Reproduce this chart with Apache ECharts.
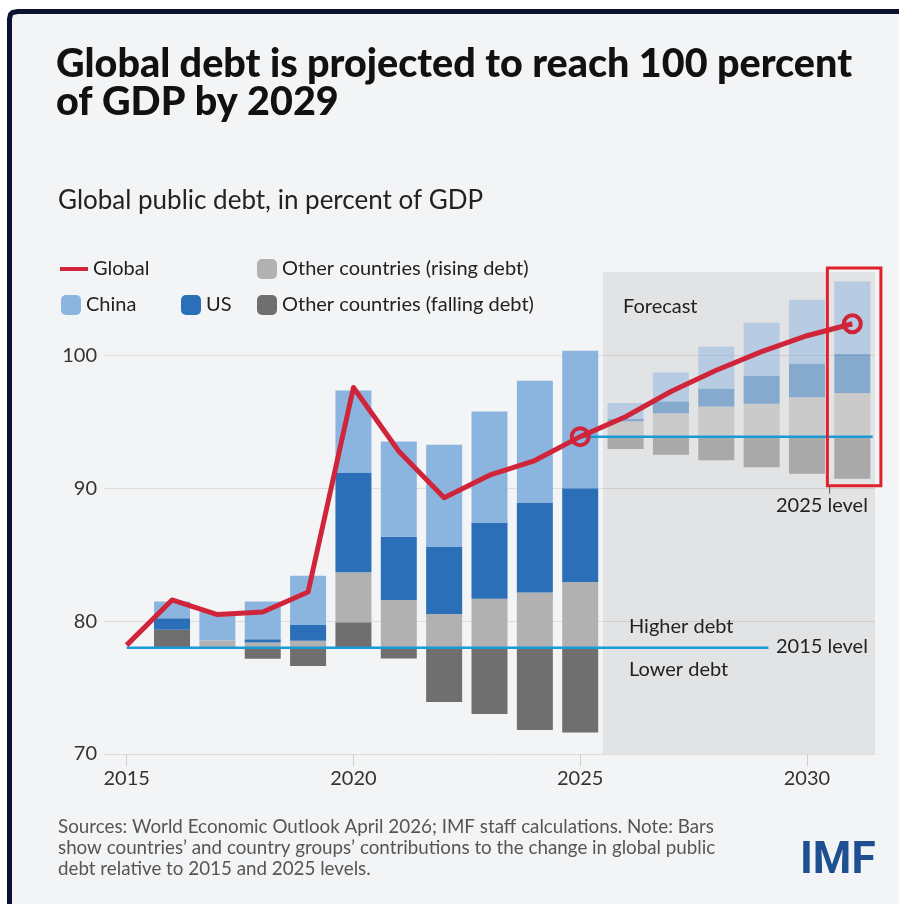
<!DOCTYPE html>
<html>
<head>
<meta charset="utf-8">
<script src="https://cdn.jsdelivr.net/npm/echarts@6/dist/echarts.min.js"></script>
<style>
  html, body { margin: 0; padding: 0; background: #ffffff; overflow: hidden; }
  #chart { width: 899px; height: 904px; }
</style>
</head>
<body>
<div id="chart"></div>
<script>
// years on the x axis, 2026 onwards is forecast
var years = ['2015', '2016', '2017', '2018', '2019', '2020', '2021', '2022', '2023', '2024',
             '2025', '2026', '2027', '2028', '2029', '2030', '2031'];
var firstForecast = 11;

// contributions, percentage points (vs 2015 level up to 2025, vs 2025 level after)
var china   = [null, 1.25, 2.15, 2.84, 3.70, 6.18, 7.16, 7.71, 8.37, 9.17, 10.35, 1.20, 2.19, 3.19, 3.99, 4.82, 5.47];
var us      = [null, 0.88, 0.00, 0.25, 1.20, 7.51, 4.77, 5.03, 5.73, 6.78, 7.06, 0.18, 0.87, 1.33, 2.11, 2.52, 2.94];
var rising  = [null, 0.00, 0.55, 0.39, 0.52, 3.77, 3.60, 2.55, 3.70, 4.16, 4.96, 1.15, 1.77, 2.27, 2.48, 2.97, 3.28];
var falling = [null, 1.35, 0.00, -0.83, -1.37, 1.92, -0.81, -4.09, -4.99, -6.19, -6.39, -0.93, -1.37, -1.77, -2.30, -2.80, -3.18];

// global public debt, percent of GDP
var globalDebt = [78.2, 81.6, 80.5, 80.7, 82.2, 97.6, 92.8, 89.3, 91.0, 92.1, 93.9, 95.4, 97.3, 98.9, 100.3, 101.5, 102.4];

var level2015 = 78.0;
var level2025 = 93.9;
var yTicks = [70, 80, 90, 100];

var RED = '#d0243a';
var CYAN = '#1b9ad6';
var FONT = 'Lato';

// bars float on the reference level, the falling part hangs below it
function levelOf(i) { return i < firstForecast ? level2015 : level2025; }
function item(v, i) {
    if (v === null) return null;
    return i >= firstForecast ? { value: v, itemStyle: { opacity: 0.5 } } : v;
}
var baseData = falling.map(function (f, i) {
    return f === null ? null : levelOf(i) + Math.min(f, 0);
});

function barSeries(name, values, color) {
    return {
        name: name,
        type: 'bar',
        stack: 'debt',
        barWidth: 36,
        itemStyle: { color: color },
        emphasis: { disabled: true },
        data: values.map(item)
    };
}

var chart = echarts.init(document.getElementById('chart'));

var legendText = { fontSize: 20, color: '#222', fontFamily: FONT };
function legend(name, left, top, icon, w, h) {
    return {
        data: [{ name: name, icon: icon }],
        left: left, top: top, padding: 0,
        itemWidth: w, itemHeight: h,
        selectedMode: false,
        textStyle: legendText
    };
}

function label(id, text, left, top) {
    return { id: id, type: 'text', left: left, top: top, z: 10,
             style: { text: text, fontSize: 20, fill: '#222', fontFamily: FONT } };
}

chart.setOption({
    backgroundColor: '#ffffff',
    animation: false,
    title: [
        {
            text: 'Global debt is projected to reach 100 percent\nof GDP by 2029',
            left: 56, top: 45, padding: 0,
            textStyle: { fontSize: 39.5, fontWeight: 900, color: '#111', lineHeight: 38, fontFamily: FONT }
        },
        {
            text: 'Global public debt, in percent of GDP',
            left: 58, top: 188, padding: 0,
            textStyle: { fontSize: 26, fontWeight: 'normal', color: '#222', lineHeight: 26, fontFamily: FONT }
        }
    ],
    legend: [
        Object.assign(legend('Global', 60, 259, 'rect', 28, 4), {
            data: [{ name: 'Global', icon: 'rect', itemStyle: { color: RED, borderWidth: 0 } }]
        }),
        legend('Other countries (rising debt)', 257, 259, 'roundRect', 20, 20),
        legend('China', 61, 295, 'roundRect', 20, 20),
        legend('US', 181, 295, 'roundRect', 20, 20),
        legend('Other countries (falling debt)', 257, 295, 'roundRect', 20, 20)
    ],
    grid: { left: 104, right: 24, top: 268, bottom: 150 },
    xAxis: [
        {
            type: 'category',
            data: years,
            boundaryGap: true,
            axisLine: { show: false },
            axisTick: {
                show: true, alignWithLabel: true, length: 12,
                interval: function (i) { return i % 5 === 0; },
                lineStyle: { color: '#cfcfcf' }
            },
            axisLabel: {
                interval: function (i) { return i % 5 === 0; },
                fontSize: 20, color: '#333', margin: 15, fontFamily: FONT
            }
        },
        { type: 'value', min: 2014.5, max: 2031.5, show: false }
    ],
    yAxis: {
        type: 'value',
        min: 70, max: 106.6, interval: 10,
        axisLine: { show: false },
        axisTick: { show: false },
        axisLabel: {
            fontSize: 20, color: '#333', margin: 7, fontFamily: FONT,
            showMaxLabel: false,
            formatter: function (v) { return yTicks.indexOf(v) >= 0 ? String(v) : ''; }
        },
        splitLine: { showMaxLine: false, lineStyle: { color: '#dcdcdc' } }
    },
    series: [
        {
            name: 'forecastShade', type: 'line', xAxisIndex: 1, data: [], z: 1, silent: true,
            markArea: {
                silent: true,
                itemStyle: { color: 'rgba(0,0,0,0.065)' },
                data: [[{ coord: [2025.5, 70] }, { coord: [2031.55, 106.3] }]]
            }
        },
        {
            name: 'base', type: 'bar', stack: 'debt', barWidth: 36, silent: true,
            itemStyle: { color: 'rgba(0,0,0,0)' },
            data: baseData
        },
        barSeries('Other countries (falling debt)', falling.map(function (f) { return f === null ? null : Math.abs(f); }), '#6f6f6f'),
        barSeries('Other countries (rising debt)', rising, '#b1b1b1'),
        barSeries('US', us, '#2a6fb7'),
        barSeries('China', china, '#8bb5df'),
        {
            name: 'level2015', type: 'line', xAxisIndex: 1, z: 4, silent: true, symbol: 'none',
            lineStyle: { color: CYAN, width: 2.5 },
            data: [[2015, level2015], [2029.15, level2015]]
        },
        {
            name: 'level2025', type: 'line', xAxisIndex: 1, z: 4, silent: true, symbol: 'none',
            lineStyle: { color: CYAN, width: 2.5 },
            data: [[2025, level2025], [2031.45, level2025]]
        },
        {
            name: 'Global', type: 'line', z: 5,
            data: globalDebt,
            showSymbol: true, showAllSymbol: true,
            symbol: 'circle',
            symbolSize: function (v, p) { return (p.dataIndex === 10 || p.dataIndex === 16) ? 17 : 0; },
            itemStyle: { color: 'rgba(0,0,0,0)', borderColor: RED, borderWidth: 4 },
            lineStyle: { color: RED, width: 5, join: 'round' },
            emphasis: { disabled: true }
        }
    ],
    graphic: [
        {
            id: 'panel', type: 'rect', z: -10, silent: true,
            shape: { x: 9.5, y: 11.5, width: 1200, height: 1200, r: 8 },
            style: { fill: '#f3f4f6' }
        },
        {
            id: 'frame', type: 'polyline', z: -9, silent: true,
            shape: { points: [[9.5, 960], [9.5, 19], [10.5, 14.5], [12.5, 12.5], [17.5, 11.5], [960, 11.5]] },
            style: { fill: null, stroke: '#0a1230', lineWidth: 5 }
        },
        label('tForecast', 'Forecast', 623, 297),
        label('tHigher', 'Higher debt', 629, 617),
        label('tLower', 'Lower debt', 629, 660),
        label('t2015', '2015 level', 776, 637),
        label('t2025', '2025 level', 776, 496),
        { id: 'notes', type: 'text', left: 58, top: 816, z: 10,
          style: {
              text: 'Sources: World Economic Outlook April 2026; IMF staff calculations. Note: Bars\n' +
                    'show countries\u2019 and country groups\u2019 contributions to the change in global public\n' +
                    'debt relative to 2015 and 2025 levels.',
              fontSize: 18.8, lineHeight: 21, fill: '#555', fontFamily: FONT
          } },
        { id: 'imf', type: 'text', left: 800, top: 840, z: 10,
          style: { text: 'IMF', fontSize: 44, fontWeight: 'bold', fill: '#1d4f91', fontFamily: 'Roboto' } }
    ]
});

// red highlight box around the final forecast year, placed via the axes
var p1 = chart.convertToPixel({ xAxisIndex: 1, yAxisIndex: 0 }, [2030.45, 106.6]);
var p2 = chart.convertToPixel({ xAxisIndex: 1, yAxisIndex: 0 }, [2031.63, 90.2]);
var p3 = chart.convertToPixel({ xAxisIndex: 1, yAxisIndex: 0 }, [2030.5, 89.6]);
chart.setOption({
    graphic: [
        {
            id: 'box', type: 'rect', z: 20, silent: true,
            shape: { x: p1[0], y: p1[1], width: p2[0] - p1[0], height: p2[1] - p1[1] },
            style: { fill: 'none', stroke: '#e0202c', lineWidth: 3 }
        },
        {
            id: 'boxTick', type: 'line', z: 20, silent: true,
            shape: { x1: p3[0], y1: p2[1] + 1, x2: p3[0], y2: p3[1] },
            style: { stroke: '#555', lineWidth: 1 }
        }
    ]
});
</script>
</body>
</html>
